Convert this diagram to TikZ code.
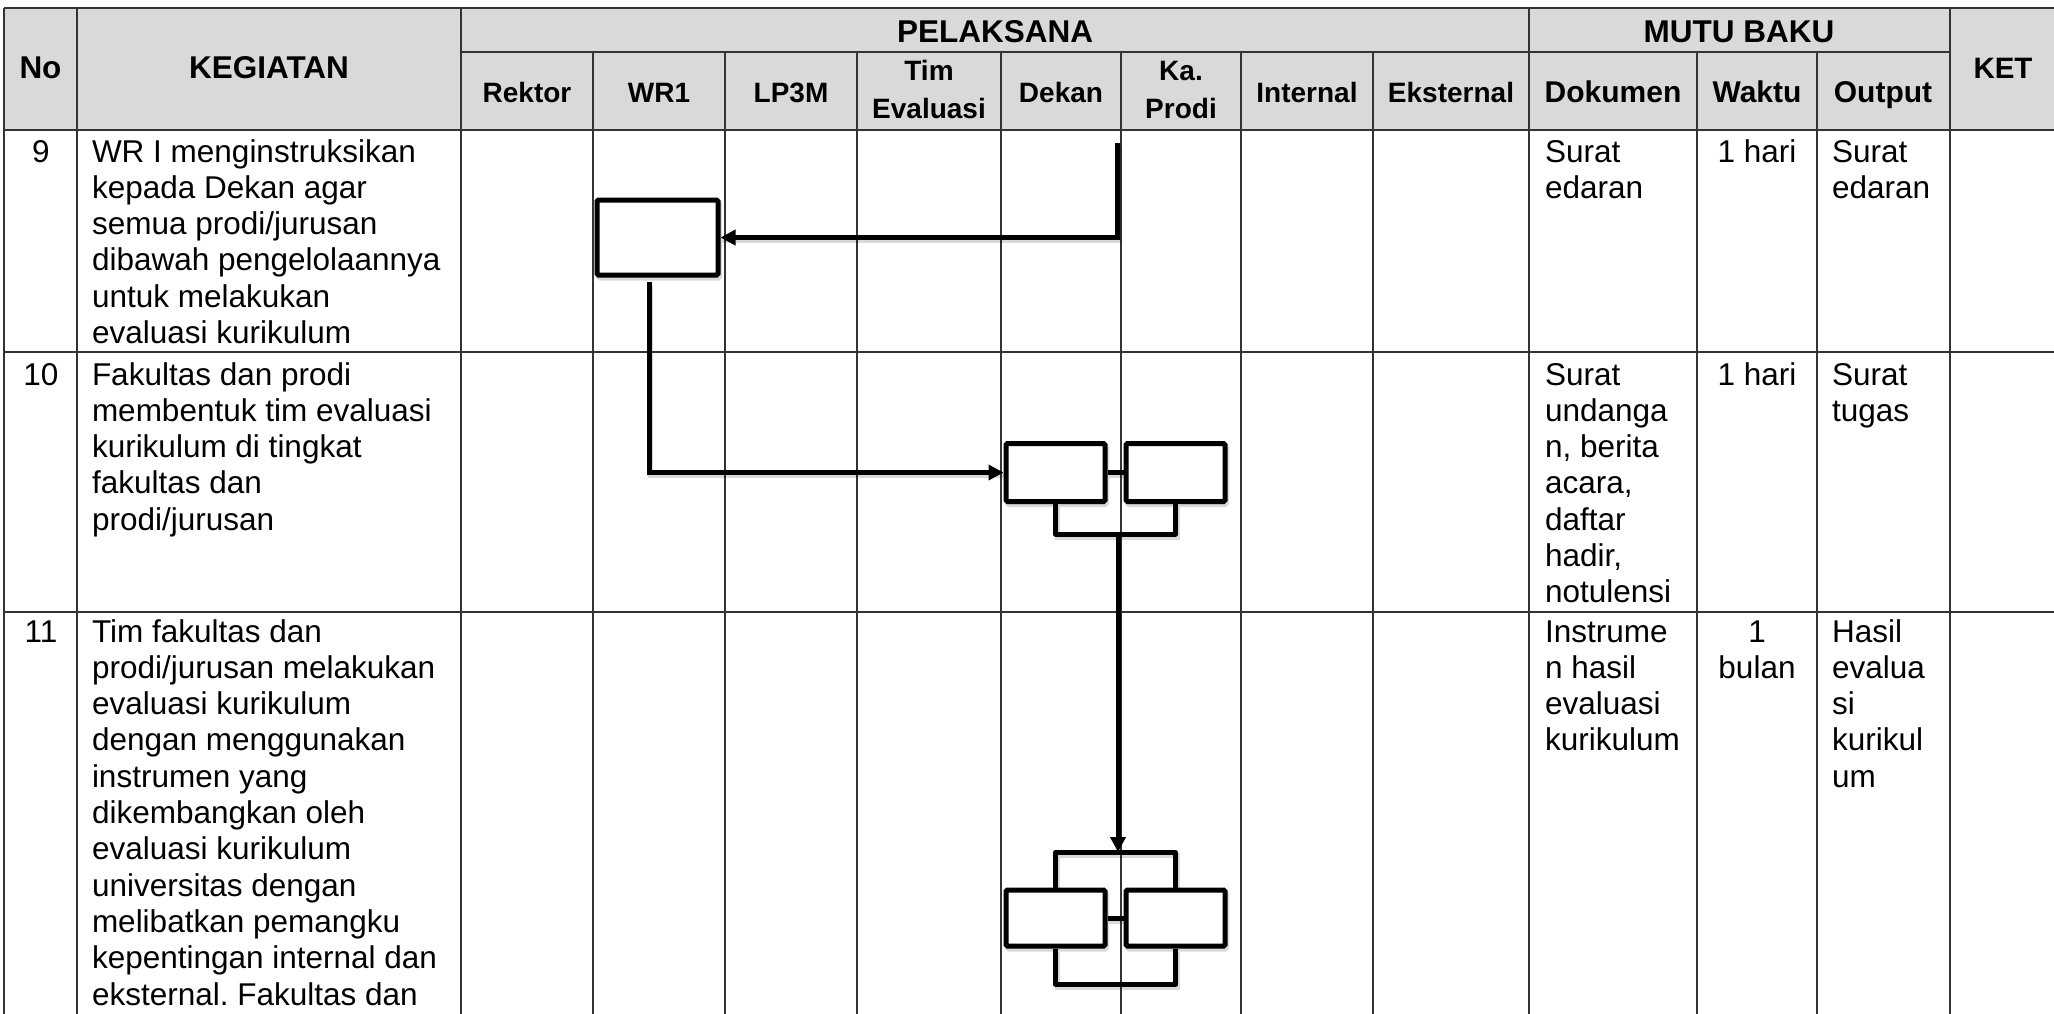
\documentclass[tikz,border=0pt]{standalone}
\usepackage{fontspec}
\setmainfont{Liberation Sans}
\usetikzlibrary{arrows.meta}
\definecolor{hdrgray}{HTML}{D9D9D9}
\newcommand{\cellL}[1]{\begin{tabular}[t]{@{}l@{}}#1\end{tabular}}
\newcommand{\cellC}[1]{\begin{tabular}[t]{@{}c@{}}#1\end{tabular}}
\frenchspacing
\begin{document}
\begin{tikzpicture}[x=1pt,y=-1pt,
  gridline/.style={draw=black!80, line width=2pt},
  body/.style={font=\fontsize{31.5}{36.3}\selectfont, inner sep=0pt, outer sep=0pt},
  hdr/.style={font=\bfseries\fontsize{31.5}{36}\selectfont, inner sep=0pt, anchor=base},
  subhdr/.style={font=\bfseries\fontsize{28}{38}\selectfont, inner sep=0pt, anchor=base},
  mutuhdr/.style={font=\bfseries\fontsize{30}{38}\selectfont, inner sep=0pt, anchor=base},
  softshadow/.style={preaction={draw=black, draw opacity=0.15, line width=5pt, -, transform canvas={shift={(1.5pt,-3pt)}}}},
  flowbox/.style={draw, line width=5pt, fill=white, inner sep=0pt, rounded corners=1.5pt, softshadow},
  conn/.style={line width=5pt, -{Triangle[length=15pt,width=15pt]}, softshadow},
  link/.style={line width=5pt, softshadow}]
\useasboundingbox (0,0) rectangle (2054,1013);
\clip (0,0) rectangle (2054,1013);
\fill[white] (0,0) rectangle (2054,1013);
% header background
\fill[hdrgray] (4,8) rectangle (2070,130);
% grid
\draw[gridline] (4,8) -- (2070,8);
\draw[gridline] (461,52) -- (1949.5,52);
\draw[gridline] (4,130) -- (2070,130);
\draw[gridline] (4,352) -- (2070,352);
\draw[gridline] (4,612) -- (2070,612);
\foreach \x in {4,77,461,1529,1949.5} \draw[gridline] (\x,8) -- (\x,1020);
\foreach \x in {593,725,857,1001,1121,1241,1373,1697,1817} \draw[gridline] (\x,52) -- (\x,1020);
% header texts
\node[hdr] (hno) at (40.5,78) {No};
\node[hdr] (hkeg) at (269,78) {KEGIATAN};
\node[hdr] (hpel) at (995,42) {PELAKSANA};
\node[hdr] (hmutu) at (1739,42) {MUTU BAKU};
\node[hdr, font=\bfseries\fontsize{29.5}{36}\selectfont] (hket) at (2003,78) {KET};
\node[subhdr] (hrek) at (527,102) {Rektor};
\node[subhdr] (hwr) at (659,102) {WR1};
\node[subhdr] (hlp) at (791,102) {LP3M};
\node[subhdr] (htim) at (929,80) {\cellC{Tim\\Evaluasi}};
\node[subhdr] (hdek) at (1061,102) {Dekan};
\node[subhdr] (hkap) at (1181,80) {\cellC{Ka.\\Prodi}};
\node[subhdr] (hint) at (1307,102) {Internal};
\node[subhdr] (heks) at (1451,102) {Eksternal};
\node[mutuhdr] (hdok) at (1613,102) {Dokumen};
\node[mutuhdr] (hwak) at (1757,102) {Waktu};
\node[mutuhdr] (hout) at (1883,102) {Output};
% row 9
\node[body, anchor=base] (n9) at (41,162) {9};
\node[body, anchor=base west] (k9) at (92,162) {\cellL{WR I menginstruksikan\\kepada Dekan agar\\semua prodi/jurusan\\dibawah pengelolaannya\\untuk melakukan\\evaluasi kurikulum}};
\node[body, anchor=base west] (d9) at (1545,162) {\cellL{Surat\\edaran}};
\node[body, anchor=base] (w9) at (1757,162) {\cellC{1 hari}};
\node[body, anchor=base west] (o9) at (1832,162) {\cellL{Surat\\edaran}};
% row 10
\node[body, anchor=base] (n10) at (41,385) {10};
\node[body, anchor=base west] (k10) at (92,385) {\cellL{Fakultas dan prodi\\membentuk tim evaluasi\\kurikulum di tingkat\\fakultas dan\\prodi/jurusan}};
\node[body, anchor=base west] (d10) at (1545,385) {\cellL{Surat\\undanga\\n, berita\\acara,\\daftar\\hadir,\\notulensi}};
\node[body, anchor=base] (w10) at (1757,385) {\cellC{1 hari}};
\node[body, anchor=base west] (o10) at (1832,385) {\cellL{Surat\\tugas}};
% row 11
\node[body, anchor=base] (n11) at (41,642) {11};
\node[body, anchor=base west] (k11) at (92,642) {\cellL{Tim fakultas dan\\prodi/jurusan melakukan\\evaluasi kurikulum\\dengan menggunakan\\instrumen yang\\dikembangkan oleh\\evaluasi kurikulum\\universitas dengan\\melibatkan pemangku\\kepentingan internal dan\\eksternal. Fakultas dan}};
\node[body, anchor=base west] (d11) at (1545,642) {\cellL{Instrume\\n hasil\\evaluasi\\kurikulum}};
\node[body, anchor=base] (w11) at (1757,642) {\cellC{1\\bulan}};
\node[body, anchor=base west] (o11) at (1832,642) {\cellL{Hasil\\evalua\\si\\kurikul\\um}};
% flow boxes
\node[flowbox, minimum width=121pt, minimum height=75pt] (wr) at (657.5,237.5) {};
\node[flowbox, minimum width=99pt, minimum height=58pt] (dk1) at (1055.5,472.5) {};
\node[flowbox, minimum width=99pt, minimum height=58pt] (kp1) at (1175.5,472.5) {};
\node[flowbox, minimum width=99pt, minimum height=56pt] (dk2) at (1055.5,918) {};
\node[flowbox, minimum width=99pt, minimum height=56pt] (kp2) at (1175.5,918) {};
% connectors
\coordinate (s1) at (1117.5,143);
\coordinate (s2) at (649,282);
\coordinate (b10) at (1118,532);
\coordinate (t11) at (1118,852);
\draw[conn] (s1) |- (wr.east);
\draw[conn] (s2) |- (dk1.west);
\draw[link] (dk1.east) -- (kp1.west);
\draw[link, line join=round] (dk1.south) -- ++(0,30) -| (kp1.south);
\draw[conn] (b10) -- (t11);
\draw[link, line join=round] (dk2.north) -- ++(0,-35) -| (kp2.north);
\draw[link] (dk2.east) -- (kp2.west);
\draw[link, line join=round] (dk2.south) -- ++(0,36) -| (kp2.south);
\end{tikzpicture}
\end{document}
